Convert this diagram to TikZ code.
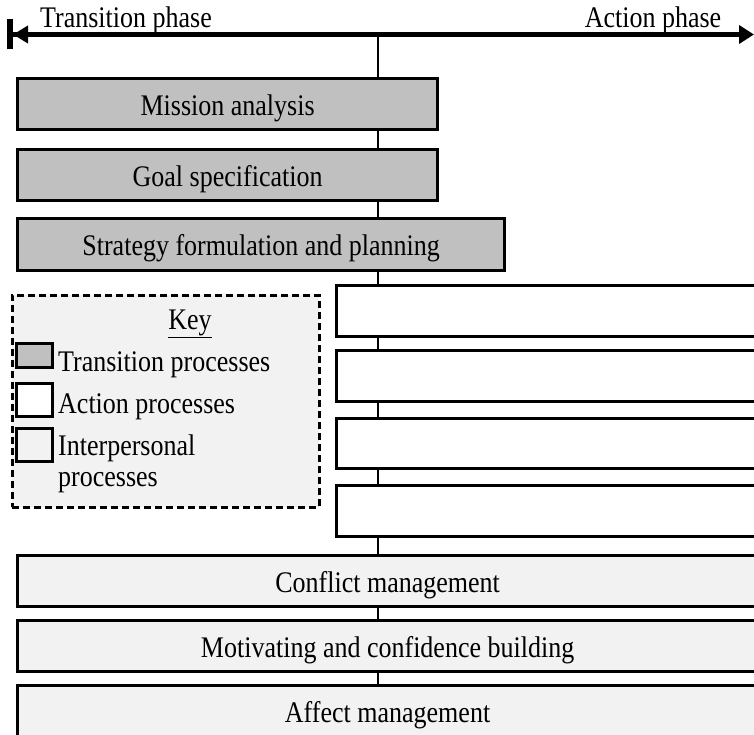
\documentclass[tikz,border=0pt]{standalone}
\usepackage{fontspec}
\setmainfont{Liberation Serif}
\usetikzlibrary{arrows.meta}
\definecolor{transgray}{HTML}{C0C0C0}
\definecolor{paleback}{HTML}{F2F2F2}
% slightly tall lettering
\newcommand\tall[1]{\scalebox{1}[1.15]{#1}}
\begin{document}
\begin{tikzpicture}[x=1pt,y=-1pt,
  every node/.style={font=\fontsize{26}{31}\selectfont},
  procbox/.style={draw, line width=3.2pt, inner sep=0pt, anchor=north west,
    minimum height=51pt, text height=24pt, text depth=2pt},
  transbox/.style={procbox, fill=transgray},
  actbox/.style={procbox, fill=white, minimum width=430pt},
  interbox/.style={procbox, fill=paleback, minimum width=740pt},
  keysq/.style={draw, line width=3pt, inner sep=0pt, anchor=north west,
    minimum width=36pt},
  txt/.style={inner sep=0pt, anchor=base},
  keytxt/.style={inner sep=0pt, anchor=base west}]

\useasboundingbox (0,0) rectangle (754,735);
\clip (0,0) rectangle (754,735);

% phase axis
\coordinate (lend) at (7,34.5);
\coordinate (rend) at (754,34.5);
\coordinate (axtop) at (378,34.5);
\coordinate (axbot) at (378,745);
\draw[line width=2pt] (axtop) -- (axbot);
\draw[line width=5pt,
  {Bar[width=30pt,line width=6pt,sep=0pt]Triangle[length=15pt,width=17pt]}-{Triangle[length=15pt,width=18pt]}]
  (lend) -- (rend);
\node[txt] (tphase) at (126,28) {\tall{Transition phase}};
\node[txt] (aphase) at (653,28) {\tall{Action phase}};

% transition processes
\node[transbox, minimum width=420pt] (mission) at (16,77) {\tall{Mission analysis}};
\node[transbox, minimum width=420pt] (goal) at (16,148) {\tall{Goal specification}};
\node[transbox, minimum width=487pt, minimum height=52pt] (strategy) at (16,217) {\tall{Strategy formulation and planning}};

% action processes
\node[actbox] (act1) at (335,284) {};
\node[actbox] (act2) at (335,349) {};
\node[actbox, minimum height=50pt] (act3) at (335,417) {};
\node[actbox] (act4) at (335,484) {};

% interpersonal processes
\node[interbox] (conflict) at (16,554) {\tall{Conflict management}};
\node[interbox] (motiv) at (16,619) {\tall{Motivating and confidence building}};
\node[interbox, minimum height=52pt] (affect) at (16,684) {\tall{Affect management}};

% key
\node[draw, dashed, dash pattern=on 7pt off 4pt, line width=2.5pt, fill=paleback,
  inner sep=0pt, anchor=north west, minimum width=307pt, minimum height=212pt]
  (key) at (11,294) {};
\node[txt] (keytitle) at (190,329) {\underline{\tall{Key}}};
\node[keysq, fill=transgray, minimum height=24pt] (sqtrans) at (15,342) {};
\node[keysq, fill=white, minimum height=33pt] (sqact) at (15,382) {};
\node[keysq, fill=paleback, minimum height=33pt] (sqinter) at (15,427) {};
\node[keytxt] (ktrans) at (58,371) {\tall{Transition processes}};
\node[keytxt] (kact) at (58,413) {\tall{Action processes}};
\node[keytxt] (kinter) at (58,455) {\tall{Interpersonal}};
\node[keytxt] (kinter2) at (58,486) {\tall{processes}};
\end{tikzpicture}
\end{document}
